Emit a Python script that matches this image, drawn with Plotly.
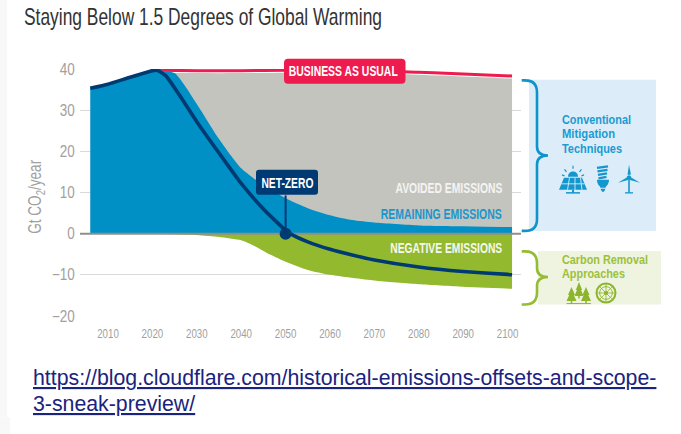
import json
import plotly.graph_objects as go

# ---- data ----
net_zero_years = [2006, 2010, 2015, 2020, 2021, 2023, 2026, 2030, 2035, 2040, 2045, 2050, 2051, 2055, 2060, 2065, 2070, 2080, 2090, 2100, 2101]
net_zero_vals = [35.3, 36.3, 38.0, 39.6, 39.7, 38.4, 33.8, 27.2, 19.6, 12.2, 6.0, 0.8, 0.0, -2.0, -3.8, -5.2, -6.4, -8.1, -9.2, -9.9, -10.0]
remain_years = [2006, 2010, 2015, 2020, 2021, 2025, 2030, 2035, 2040, 2045, 2050, 2055, 2060, 2065, 2070, 2080, 2090, 2101]
remain_vals = [35.3, 36.3, 38.0, 39.6, 39.7, 39.0, 31.5, 23.0, 15.9, 11.8, 8.6, 6.2, 4.5, 3.3, 2.7, 2.0, 1.8, 1.6]
bau_years = [2021, 2030, 2040, 2050, 2060, 2070, 2080, 2090, 2101]
bau_vals = [39.7, 39.6, 39.6, 39.7, 39.7, 39.6, 39.2, 38.8, 38.3]
neg_years = [2020, 2030, 2035, 2040, 2043, 2046, 2050, 2055, 2060, 2070, 2080, 2090, 2101]
neg_vals = [0.0, -0.3, -0.8, -1.6, -3.0, -4.8, -6.8, -8.8, -10.0, -11.4, -12.3, -12.9, -13.4]
neg_top = [0.0] * len(neg_years)
y_ticks = [-20, -10, 0, 10, 20, 30, 40]
x_ticks = [2010, 2020, 2030, 2040, 2050, 2060, 2070, 2080, 2090, 2100]
x_labels = [str(v) for v in x_ticks]

BLUE, GREY, GREEN, NAVY, RED = "#0090c6", "#c4c4bf", "#93ba2f", "#003a73", "#ee1c4e"
TICK = "#a0a0a0"
NARROW = "Liberation Sans, sans-serif"
L, R, T, B = 80.0, 521.0, 69.3, 316.0
X0, X1 = 2010 + (L - 108) / 4.44, 2010 + (R - 108) / 4.44

def px(x): return (x - L) / (R - L)
def py(y): return (B - y) / (B - T)

def path(*cmds):
    out = []
    for c in cmds:
        op, vals = c[0], c[1:]
        if op == "Z":
            out.append("Z")
        else:
            pts = [f"{px(vals[i]):.5f},{py(vals[i+1]):.5f}" for i in range(0, len(vals), 2)]
            out.append(op + " " + " ".join(pts))
    return " ".join(out)

shapes = []
def add(d, fill=None, line=None, w=0, layer="above"):
    shapes.append(dict(type="path", xref="paper", yref="paper", path=d, layer=layer,
                       fillcolor=fill or "rgba(0,0,0,0)",
                       line=dict(color=line or "rgba(0,0,0,0)", width=w)))

def rect(x0, y0, x1, y1, fill, layer="below"):
    add(path(("M", x0, y0), ("L", x1, y0), ("L", x1, y1), ("L", x0, y1), ("Z",)), fill=fill, layer=layer)

def rrect(x0, y0, x1, y1, r, fill):
    add(path(("M", x0 + r, y0), ("L", x1 - r, y0), ("Q", x1, y0, x1, y0 + r), ("L", x1, y1 - r),
             ("Q", x1, y1, x1 - r, y1), ("L", x0 + r, y1), ("Q", x0, y1, x0, y1 - r),
             ("L", x0, y0 + r), ("Q", x0, y0, x0 + r, y0), ("Z",)), fill=fill)

def circle(cx, cy, r, fill=None, line=None, w=0):
    k = 0.5523 * r
    add(path(("M", cx + r, cy), ("C", cx + r, cy + k, cx + k, cy + r, cx, cy + r),
             ("C", cx - k, cy + r, cx - r, cy + k, cx - r, cy),
             ("C", cx - r, cy - k, cx - k, cy - r, cx, cy - r),
             ("C", cx + k, cy - r, cx + r, cy - k, cx + r, cy), ("Z",)), fill=fill, line=line, w=w)

def seg(x0, y0, x1, y1, color, w):
    add(path(("M", x0, y0), ("L", x1, y1)), line=color, w=w)

def brace(y0, ym, y1, color):
    xs, xb, xt, r = 521.7, 537.0, 548.0, 9
    add(path(("M", xs, y0), ("L", xb - r - 3, y0), ("Q", xb, y0, xb, y0 + r + 3), ("L", xb, ym - 9),
             ("Q", xb, ym, xt, ym), ("Q", xb, ym, xb, ym + 9), ("L", xb, y1 - r - 3),
             ("Q", xb, y1, xb - r - 3, y1), ("L", xs, y1)), line=color, w=2.6)

# page strip and side panels
rect(0, 0, 7, 417, "#f8f8f8")
rect(0, 417, 10, 434, "#f8f8f8")
rect(529, 80, 656, 231, "#dcecf8")
rect(538, 251, 661, 304.5, "#eef4e0")
brace(80.7, 155.7, 231, "#0e94cb")
brace(251.5, 277, 304.5, "#96bc35")

# label boxes
rrect(284, 59, 405.5, 84, 4, RED)
rrect(256, 170, 318, 195, 3, NAVY)

# solar panel
IC = "#1497cf"
add(path(("M", 564, 178), ("L", 582, 178), ("L", 587, 190), ("L", 559, 190), ("Z",)), fill=IC)
for xa, xb in [(569.5, 567.5), (575, 575), (580.5, 582)]:
    seg(xa, 178, xb, 190, "#dcecf8", 0.9)
seg(561.5, 184, 584.5, 184, "#dcecf8", 0.9)
seg(573, 190, 573, 193, IC, 2)
seg(566, 193, 580, 193, IC, 1.5)
add(path(("M", 568, 177), ("C", 568, 170, 578, 170, 578, 177), ("Z",)), fill=IC)
for a, b, c, d in [(573, 169, 573, 166), (566.5, 172, 564.5, 169.5), (579.5, 172, 581.5, 169.5), (564.5, 176, 562, 175), (581.5, 176, 584, 175)]:
    seg(a, b, c, d, IC, 1.2)
# bulb
for i, yy in enumerate([168, 171.5, 175, 178.5]):
    seg(597 + i * 0.5, yy, 608 - i * 0.5, yy - 1.5, IC, 2.4)
add(path(("M", 597, 180), ("L", 609, 180), ("C", 609, 185, 606, 186, 605.5, 188), ("L", 600.5, 188), ("C", 600, 186, 597, 185, 597, 180), ("Z",)), fill=IC)
add(path(("M", 600.5, 189), ("L", 605.5, 189), ("L", 604, 192), ("L", 602, 192), ("Z",)), fill=IC)
# wind turbine
add(path(("M", 629, 165), ("L", 631, 175), ("L", 627.5, 175), ("Z",)), fill=IC)
add(path(("M", 630, 177), ("L", 640, 183), ("L", 629, 180), ("Z",)), fill=IC)
add(path(("M", 628, 177), ("L", 618, 183), ("L", 629, 180), ("Z",)), fill=IC)
circle(629, 177.5, 2.2, fill=IC)
seg(629, 180, 629, 193, IC, 1.6)
seg(625, 193, 633, 193, IC, 1.3)
# trees
TC = "#8db52c"
for cx, top, bot, hw in [(571.5, 287, 303, 5), (579, 282, 298, 4.5), (586, 287, 303, 5)]:
    mid = (top + bot) / 2
    add(path(("M", cx, top), ("L", cx + hw * 0.7, mid), ("L", cx + hw * 0.45, mid), ("L", cx + hw, bot - 2),
             ("L", cx - hw, bot - 2), ("L", cx - hw * 0.45, mid), ("L", cx - hw * 0.7, mid), ("Z",)), fill=TC)
    seg(cx, bot - 2, cx, bot + 0.5, TC, 1.5)
seg(566.5, 303.6, 591, 303.6, TC, 1)
# wheel
circle(606, 293, 9.5, line=TC, w=2)
circle(606, 293, 6.3, line=TC, w=1)
circle(606, 293, 2, fill=TC)
for a, b, c, d in [(606, 284, 606, 302), (597, 293, 615, 293), (599.6, 286.6, 612.4, 299.4), (599.6, 299.4, 612.4, 286.6)]:
    seg(a, b, c, d, TC, 0.8)

traces = [
    go.Scatter(x=bau_years, y=[v - 0.6 for v in bau_vals], mode="lines", fill="tozeroy", fillcolor=GREY, line=dict(width=0, color=GREY, shape="spline"), hoverinfo="skip"),
    go.Scatter(x=bau_years, y=bau_vals, mode="lines", line=dict(width=3, color=RED, shape="spline"), hoverinfo="skip"),
    go.Scatter(x=remain_years, y=remain_vals, mode="lines", fill="tozeroy", fillcolor=BLUE, line=dict(width=0, color=BLUE, shape="spline", smoothing=0.6), hoverinfo="skip"),
    go.Scatter(x=neg_years, y=neg_top, mode="lines", line=dict(width=0, color=GREEN), hoverinfo="skip"),
    go.Scatter(x=neg_years, y=neg_vals, mode="lines", fill="tonexty", fillcolor=GREEN, line=dict(width=0, color=GREEN, shape="spline", smoothing=0.6), hoverinfo="skip"),
    go.Scatter(x=[X0, X1], y=[0, 0], mode="lines", line=dict(width=2, color="#8f8f8a"), hoverinfo="skip"),
    go.Scatter(x=net_zero_years, y=net_zero_vals, mode="lines", line=dict(width=3.6, color=NAVY, shape="spline", smoothing=0.5), hoverinfo="skip"),
    go.Scatter(x=[2050, 2050], y=[0, 9.3], mode="lines", line=dict(width=2, color=NAVY), hoverinfo="skip"),
    go.Scatter(x=[2050], y=[0], mode="markers", marker=dict(size=12, color=NAVY), hoverinfo="skip"),
]

widths = {}
def txt(text, x, y, size, color, width=None, font=NARROW, anchor="left", **kw):
    if width:
        widths[text.replace("<b>", "").replace("</b>", "").replace("<sub>", "").replace("</sub>", "")] = width
    return dict(text=text, xref="paper", yref="paper", x=px(x), y=py(y), xanchor=anchor, yanchor="middle",
                showarrow=False, font=dict(size=size, color=color, family=font), align=anchor, **kw)

annotations = [
    txt("Staying Below 1.5 Degrees of Global Warming", 22, 17, 24, "#333333", 358),
    txt("<b>BUSINESS AS USUAL</b>", 343.5, 71.5, 14, "#ffffff", 109, anchor="center"),
    txt("<b>NET-ZERO</b>", 287, 183, 14, "#ffffff", 52, anchor="center"),
    txt("<b>AVOIDED EMISSIONS</b>", 504, 188, 14, "#f4f4f2", 107, anchor="right"),
    txt("<b>REMAINING EMISSIONS</b>", 504, 214, 14, "#1a96cc", 121, anchor="right"),
    txt("<b>NEGATIVE EMISSIONS</b>", 504, 248, 14, "#f6f8ee", 112, anchor="right"),
    txt("<b>Conventional</b>", 560, 120, 13, "#1a9bd1", 69),
    txt("<b>Mitigation</b>", 560, 134, 13, "#1a9bd1", 53),
    txt("<b>Techniques</b>", 560, 148.5, 13, "#1a9bd1", 60),
    txt("<b>Carbon Removal</b>", 560, 260, 13, "#9cc03c", 86),
    txt("<b>Approaches</b>", 560, 274, 13, "#9cc03c", 63),
    txt("Gt CO<sub>2</sub>/year", 37, 197, 18, TICK, 74, textangle=-90, anchor="center"),
    txt("<u>https://blog.cloudflare.com/historical-emissions-offsets-and-scope-</u>", 31, 378, 21.3, "#1a237e"),
    txt("<u>3-sneak-preview/</u>", 31, 404, 21.3, "#1a237e"),
]

fig = go.Figure(traces)
fig.update_layout(
    width=681, height=434, showlegend=False, paper_bgcolor="#ffffff", plot_bgcolor="rgba(0,0,0,0)",
    margin=dict(l=L, r=681 - R, t=T, b=434 - B, pad=0), shapes=shapes, annotations=annotations,
    xaxis=dict(range=[X0, X1], tickvals=x_ticks, ticktext=x_labels, showgrid=False, zeroline=False, showline=False,
               ticks="outside", ticklen=5, tickcolor="rgba(0,0,0,0)",
               tickfont=dict(size=13.5, color=TICK, family=NARROW), fixedrange=True),
    yaxis=dict(range=[-20, 40], tickvals=y_ticks, showgrid=True, gridcolor="#d9d9d9", gridwidth=1, zeroline=False, showline=False,
               ticks="outside", ticklen=1, tickcolor="rgba(0,0,0,0)",
               tickfont=dict(size=16, color=TICK, family=NARROW), fixedrange=True),
)

# remove the page's default margin and condense the text (no condensed face is installed)
post = """
document.body.style.margin = '0';
var W = %s;
function squeeze(el, w) {
  el.setAttribute('textLength', w);
  el.setAttribute('lengthAdjust', 'spacingAndGlyphs');
}
document.querySelectorAll('.annotation-text').forEach(function (el) {
  var w = W[el.textContent.replace(/\\u200b/g, '')];
  if (w) squeeze(el, w);
});
document.querySelectorAll('.xtick text').forEach(function (el) { squeeze(el, el.getComputedTextLength() * 0.72); });
document.querySelectorAll('.ytick text').forEach(function (el) { squeeze(el, el.getComputedTextLength() * 0.84); });
""" % json.dumps(widths)
fig.write_html("out.html", config=dict(displayModeBar=False), post_script=post)
